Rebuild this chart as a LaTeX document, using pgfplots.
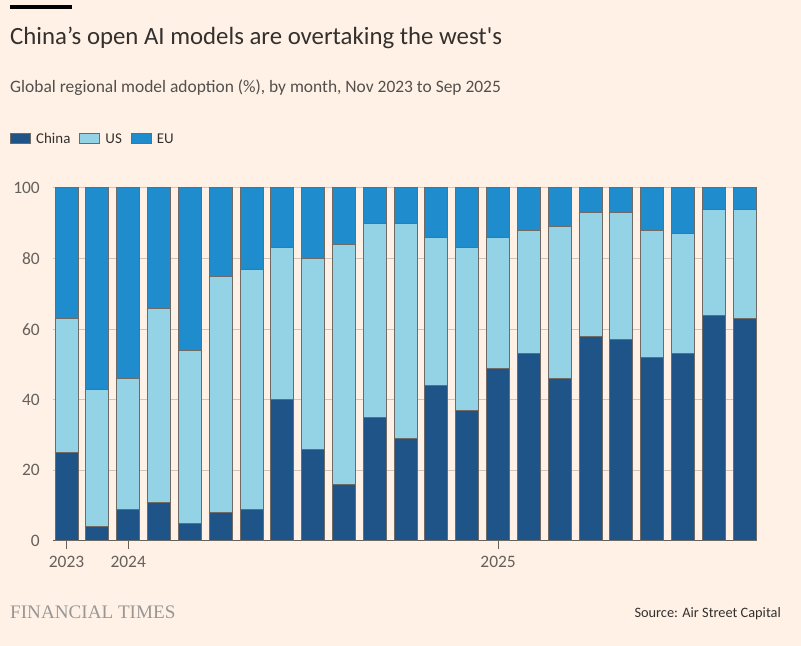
\documentclass[border=0pt]{standalone}
\usepackage{pgfplots}
\pgfplotsset{compat=1.18}
\usepackage{fontspec}
\setmainfont{Carlito}
\newfontfamily\ftserif{Liberation Serif}

\definecolor{bg}{HTML}{FFF1E5}
\definecolor{china}{HTML}{1F5489}
\definecolor{us}{HTML}{94D2E5}
\definecolor{eu}{HTML}{1F8DCD}
\definecolor{edge}{HTML}{6E6A66}
\definecolor{gridc}{HTML}{D2C6BB}
\definecolor{axisc}{HTML}{66605C}
\definecolor{ink}{HTML}{33302E}

% month index 0 = Nov 2023 ... 22 = Sep 2025
\pgfplotstableread{
m  china us eu
0  25 38 37
1  4  39 57
2  9  37 54
3  11 55 34
4  5  49 46
5  8  67 25
6  9  68 23
7  40 43 17
8  26 54 20
9  16 68 16
10 35 55 10
11 29 61 10
12 44 42 14
13 37 46 17
14 49 37 14
15 53 35 12
16 46 43 11
17 58 35 7
18 57 36 7
19 52 36 12
20 53 34 13
21 64 30 6
22 63 31 6
}\adoption

\begin{document}
\begin{tikzpicture}[x=1bp,y=1bp]
\fill[bg] (0,0) rectangle (801,646);
\useasboundingbox (0,0) rectangle (801,646);
\fill[black] (10,637) rectangle (72,641);
\node[anchor=base west, inner sep=0, text=ink, font=\fontsize{24.9}{28}\selectfont] at (10,601) {China’s open AI models are overtaking the west\textquotesingle s};
\node[anchor=base west, inner sep=0, text=ink!85, font=\fontsize{17.5}{20}\selectfont] at (10,553) {Global regional model adoption (\%), by month, Nov 2023 to Sep 2025};

\begin{axis}[
    at={(53bp,105bp)}, anchor=south west,
    scale only axis,
    width=704bp, height=353bp,
    ybar stacked,
    bar width=23bp,
    xmin=-0.44, xmax=22.4,
    ymin=0, ymax=100,
    xtick={0,2,14},
    xticklabels={2023,2024,2025},
    ytick={0,20,40,60,80,100},
    axis x line*=bottom,
    axis y line*=left,
    y axis line style={draw=none},
    x axis line style={draw=axisc, line width=1bp, -},
    ymajorgrids,
    grid style={gridc, line width=1bp},
    xtick align=outside,
    major tick length=8bp,
    x tick style={draw=axisc, line width=1bp},
    y tick style={draw=none},
    tick label style={text=axisc, font=\fontsize{17.5}{20}\selectfont},
    /pgf/number format/assume math mode=true,
    yticklabel style={anchor=east, inner sep=0pt, xshift=-13bp},
    xticklabel style={anchor=north, inner sep=0pt, yshift=-7bp},
    legend columns=-1,
    legend style={at={(axis description cs:-0.0611,1.1388)}, anchor=west,
        draw=none, fill=none, inner sep=0pt,
        font=\fontsize{15}{18}\selectfont, text=ink,
        nodes={inner sep=0pt},
        /tikz/every odd column/.style={column sep=5bp},
        /tikz/every even column/.style={column sep=9bp}},
    leg/.style={legend image code/.code={\draw[##1] (0bp,-5bp) rectangle (20bp,5bp);}},
]
\addplot[fill=china, draw=edge, line width=1bp, leg] table[x=m, y=china] {\adoption};
\addplot[fill=us, draw=edge, line width=1bp, leg] table[x=m, y=us] {\adoption};
\addplot[fill=eu, draw=edge, line width=1bp, leg] table[x=m, y=eu] {\adoption};
\legend{China, US, EU}
\end{axis}

\node[anchor=base west, inner sep=0, text=ink!50, font=\ftserif\fontsize{19.2}{20}\selectfont] at (10,27) {FINANCIAL TIMES};
\node[anchor=base east, inner sep=0, text=ink, font=\fontsize{14.4}{16}\selectfont] at (781,28) {Source: Air Street Capital};
\end{tikzpicture}
\end{document}
